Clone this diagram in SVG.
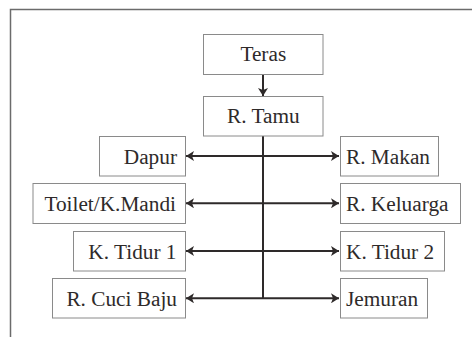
<svg xmlns="http://www.w3.org/2000/svg" width="472" height="337" viewBox="0 0 472 337">
  <style>
    .box { fill: #ffffff; stroke: #8a8a8a; stroke-width: 1; }
    .lbl { font-family: "Liberation Serif", "Times New Roman", serif; font-size: 21.3px; fill: #2e2a2a; }
    .mid { text-anchor: middle; }
    .end { text-anchor: end; }
    .link { fill: none; stroke: #2e2a2a; stroke-width: 2; }
  </style>
  <defs>
    <marker id="head" viewBox="0 0 8 10" refX="8" refY="5" markerWidth="8" markerHeight="10" markerUnits="userSpaceOnUse" orient="auto-start-reverse">
      <path d="M0,0 L8,5 L0,10 L2,5 Z" fill="#2e2a2a"/>
    </marker>
  </defs>
  <rect x="0" y="0" width="472" height="337" fill="#ffffff"/>
  <!-- outer frame -->
  <path d="M10.5,340 V9.5 H475" fill="none" stroke="#6b6b6b" stroke-width="1.5"/>

  <g id="connectors">
    <line class="link" x1="263" y1="74.5" x2="263" y2="96" marker-end="url(#head)"/>
    <line class="link" x1="263" y1="136" x2="263" y2="298.3"/>
    <line class="link" x1="186" y1="156" x2="339" y2="156" marker-start="url(#head)" marker-end="url(#head)"/>
    <line class="link" x1="186" y1="203.3" x2="339" y2="203.3" marker-start="url(#head)" marker-end="url(#head)"/>
    <line class="link" x1="186" y1="251" x2="339" y2="251" marker-start="url(#head)" marker-end="url(#head)"/>
    <line class="link" x1="186" y1="298.3" x2="339" y2="298.3" marker-start="url(#head)" marker-end="url(#head)"/>
  </g>

  <g id="teras">
    <rect class="box" x="203.5" y="34.5" width="119.5" height="40"/>
    <text class="lbl mid" x="263.3" y="61">Teras</text>
  </g>
  <g id="r-tamu">
    <rect class="box" x="203.5" y="96.5" width="119.5" height="39.5"/>
    <text class="lbl mid" x="263.3" y="123">R. Tamu</text>
  </g>

  <g id="dapur">
    <rect class="box" x="99.5" y="136.5" width="86" height="39.5"/>
    <text class="lbl end" x="177" y="163.5">Dapur</text>
  </g>
  <g id="r-makan">
    <rect class="box" x="340.5" y="136.5" width="98" height="39.5"/>
    <text class="lbl" x="346" y="163.5">R. Makan</text>
  </g>

  <g id="toilet">
    <rect class="box" x="33" y="183.5" width="152.5" height="40"/>
    <text class="lbl end" x="176" y="211">Toilet/K.Mandi</text>
  </g>
  <g id="r-keluarga">
    <rect class="box" x="340.5" y="183.5" width="120" height="40"/>
    <text class="lbl" x="346" y="211">R. Keluarga</text>
  </g>

  <g id="k-tidur-1">
    <rect class="box" x="73.5" y="231.5" width="112" height="39.5"/>
    <text class="lbl end" x="176.5" y="258.5">K. Tidur 1</text>
  </g>
  <g id="k-tidur-2">
    <rect class="box" x="340.5" y="231.5" width="104" height="39.5"/>
    <text class="lbl" x="346" y="258.5">K. Tidur 2</text>
  </g>

  <g id="r-cuci-baju">
    <rect class="box" x="52.5" y="278.5" width="133" height="39.5"/>
    <text class="lbl end" x="177" y="306">R. Cuci Baju</text>
  </g>
  <g id="jemuran">
    <rect class="box" x="340.5" y="278.5" width="87" height="39.5"/>
    <text class="lbl" x="346" y="306">Jemuran</text>
  </g>
</svg>
